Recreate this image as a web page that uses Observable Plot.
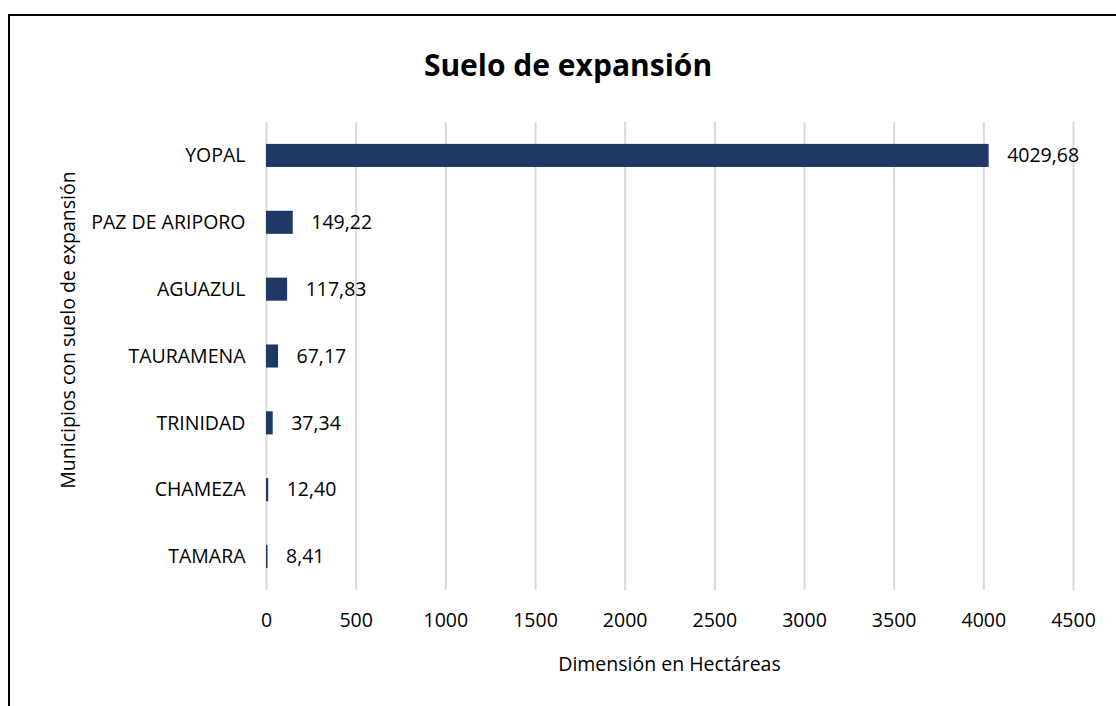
<!DOCTYPE html>
<html>
<head>
<meta charset="utf-8">
<script src="https://cdn.jsdelivr.net/npm/d3@7"></script>
<script src="https://cdn.jsdelivr.net/npm/@observablehq/plot@0.6"></script>
<style>
  html, body { margin: 0; padding: 0; background: #fff; }
  #wrap { position: relative; width: 1116px; height: 706px; overflow: hidden; font-family: "Open Sans", sans-serif; color: #000; }
  #frame { position: absolute; left: 8px; top: 14px; width: 1200px; height: 800px; border-left: 2px solid #000; border-top: 2px solid #000; box-sizing: border-box; }
  #title { position: absolute; left: 0; top: 44px; width: 1136px; text-align: center; font-size: 30px; font-weight: 700; }
  #xlabel { position: absolute; left: 266px; width: 807px; top: 650px; text-align: center; font-size: 19.5px; }
  #ylabel { position: absolute; left: 67px; top: 330px; transform: translate(-50%, -50%) rotate(-90deg); white-space: nowrap; font-size: 19.5px; }
  #chart { position: absolute; left: 0; top: 0; }
</style>
</head>
<body>
<div id="wrap">
  <div id="frame"></div>
  <div id="chart"></div>
  <div id="title">Suelo de expansión</div>
  <div id="xlabel">Dimensión en Hectáreas</div>
  <div id="ylabel">Municipios con suelo de expansión</div>
</div>
<script>
const municipios = ["YOPAL", "PAZ DE ARIPORO", "AGUAZUL", "TAURAMENA", "TRINIDAD", "CHAMEZA", "TAMARA"];
const hectareas = [4029.68, 149.22, 117.83, 67.17, 37.34, 12.40, 8.41];
const xTicks = [0, 500, 1000, 1500, 2000, 2500, 3000, 3500, 4000, 4500];

const data = municipios.map((m, i) => ({municipio: m, valor: hectareas[i]}));
const fmt = v => v.toFixed(2).replace(".", ",");

const chart = Plot.plot({
  width: 1116,
  height: 706,
  marginLeft: 266,
  marginRight: 43,
  marginTop: 122,
  marginBottom: 116,
  style: {fontFamily: "Open Sans, sans-serif", fontSize: "19.5px", color: "#000", background: "transparent"},
  x: {domain: [0, 4500], ticks: xTicks, label: null},
  y: {domain: municipios, paddingInner: 0.655, paddingOuter: 0.3275, round: false, label: null},
  marks: [
    Plot.gridX(xTicks, {stroke: "#d9d9d9", strokeOpacity: 1, strokeWidth: 2}),
    Plot.axisX({ticks: xTicks, tickSize: 0, tickPadding: 23, label: null, tickFormat: d => String(d)}),
    Plot.axisY({tickSize: 0, tickPadding: 21, label: null}),
    Plot.barX(data, {x: "valor", y: "municipio", fill: "#203864"}),
    Plot.text(data, {x: "valor", y: "municipio", text: d => fmt(d.valor), textAnchor: "start", dx: 18, fill: "#000"})
  ]
});
document.getElementById("chart").appendChild(chart);
</script>
</body>
</html>
